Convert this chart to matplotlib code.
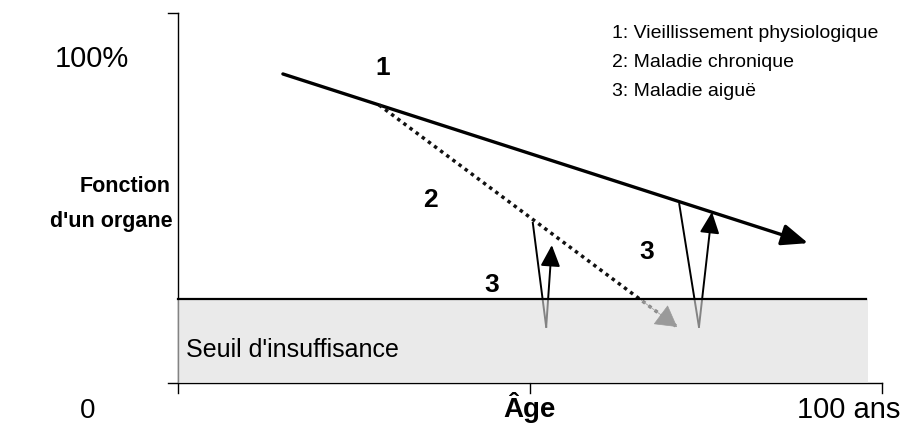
import matplotlib
matplotlib.use("Agg")
import matplotlib.pyplot as plt
from matplotlib.patches import FancyArrowPatch, Rectangle

plt.rcParams['font.family'] = ['Liberation Sans', 'DejaVu Sans']

# ---- data (age in years, organ function in %) ----
threshold = 25.8
x_max = 100

# 1: physiological ageing
aging_age = [14.9, 89.5]
aging_fn = [94.8, 42.9]

# 2: chronic disease
chronic_age = [28.55, 70.9]
chronic_fn = [85.3, 17.2]

# 3: acute disease episodes (drop, then recovery)
acute1_age = [50.4, 52.3, 53.1]
acute1_fn = [49.1, 17.2, 42.3]
acute2_age = [71.2, 74.0, 75.85]
acute2_fn = [54.9, 17.2, 52.45]

legend_lines = ["1: Vieillissement physiologique",
                "2: Maladie chronique",
                "3: Maladie aiguë"]

# ---- figure: pixel mapping  x: 178px->0, 882px->100 ; y: 383px->0, 57px->100
W, H = 902, 426
fig = plt.figure(figsize=(W / 100, H / 100), dpi=100)
ax = fig.add_axes([0, 0, 1, 1])
sx, sy = 7.04, 3.26
ax.set_xlim(-178 / sx, (W - 178) / sx)
ax.set_ylim((383 - H) / sy, 383 / sy)
ax.axis('off')

def px(v):
    return v / sx

def py(v):
    return v / sy

# axes lines
ax.plot([0, 0], [-py(10), py(370)], color='black', lw=1.0, zorder=2)
ax.plot([-px(10), 0], [py(370), py(370)], color='black', lw=1.0, zorder=2)
ax.plot([-px(10), x_max], [0, 0], color='black', lw=1.0, zorder=2)
ax.plot([x_max, x_max], [0, -py(10)], color='black', lw=1.0, zorder=2)
ax.plot([50, 50], [0, -py(10)], color='black', lw=1.0, zorder=2)

# 1: ageing line with arrow
ax.add_patch(FancyArrowPatch((aging_age[0], aging_fn[0]), (aging_age[1], aging_fn[1]),
                             arrowstyle='-|>,head_length=16,head_width=6.5',
                             mutation_scale=1, lw=2.4, color='black',
                             shrinkA=0, shrinkB=0, zorder=2))

# 2: chronic disease dotted line + head
ax.plot(chronic_age, chronic_fn, color='#111111', lw=2.5,
        linestyle=(0, (1, 1.2)), zorder=2, solid_capstyle='butt')
dx = chronic_age[1] - chronic_age[0]
dy = chronic_fn[1] - chronic_fn[0]
ax.add_patch(FancyArrowPatch((chronic_age[1] - 0.12 * dx, chronic_fn[1] - 0.12 * dy),
                             (chronic_age[1], chronic_fn[1]),
                             arrowstyle='-|>,head_length=14,head_width=8',
                             mutation_scale=1, lw=0.5, color='#3a3a3a',
                             shrinkA=0, shrinkB=0, zorder=2))

# 3: acute episodes
for a, f in ((acute1_age, acute1_fn), (acute2_age, acute2_fn)):
    ax.plot(a[:2], f[:2], color='black', lw=1.4, zorder=2)
    ax.add_patch(FancyArrowPatch((a[1], f[1]), (a[2], f[2]),
                                 arrowstyle='-|>,head_length=13,head_width=6',
                                 mutation_scale=1, lw=1.4, color='black',
                                 shrinkA=0, shrinkB=0, zorder=2))

# insufficiency zone (drawn over the lines)
ax.add_patch(Rectangle((0, 0), 98.0, threshold, facecolor='#dcdcdc',
                       edgecolor='none', alpha=0.6, zorder=3))
ax.plot([0, 97.7], [threshold, threshold], color='black', lw=1.6, zorder=4)
ax.text(px(186 - 178), py(383 - 350), "Seuil d'insuffisance", fontsize=18,
        ha='left', va='center', zorder=5)

# number labels
num_kw = dict(fontsize=19, fontweight='bold', ha='center', va='center', zorder=5)
ax.text(29.1, 96.5, "1", **num_kw)
ax.text(35.9, 56.2, "2", **num_kw)
ax.text(44.6, 30.0, "3", **num_kw)
ax.text(66.6, 40.3, "3", **num_kw)

# axis texts
ax.text(-12.2, 99.5, "100%", fontsize=21, ha='center', va='center')
ax.text(-12.78, -8.6, "0", fontsize=20, ha='center', va='center')
ax.text(95.3, -8.2, "100 ans", fontsize=21, ha='center', va='center')
ax.text(50, py(-417 + 383), "Âge", fontsize=20, fontweight='bold',
        ha='center', va='baseline')
ax.text(px(125 - 178), py(383 - 192), "Fonction", fontsize=15.5, fontweight='bold',
        ha='center', va='baseline')
ax.text(px(173 - 178), py(383 - 227), "d'un organe", fontsize=15.5, fontweight='bold',
        ha='right', va='baseline')

# legend
for i, t in enumerate(legend_lines):
    ax.text(px(612 - 178), py(383 - (38 + 29 * i)), t, fontsize=14,
            ha='left', va='baseline')

fig.savefig("out.png", dpi=100, facecolor='white')
